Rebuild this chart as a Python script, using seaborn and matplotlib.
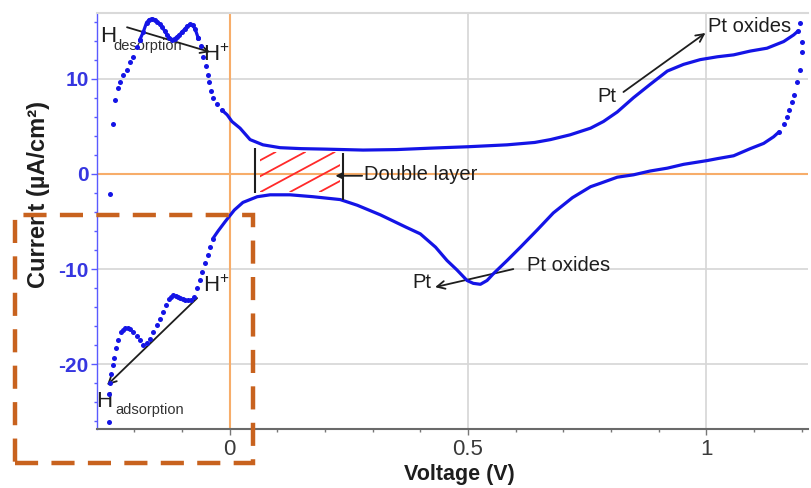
import matplotlib
matplotlib.use("Agg")
import numpy as np
import pandas as pd
import matplotlib.pyplot as plt
import seaborn as sns
from matplotlib.patches import Rectangle
from matplotlib.ticker import MultipleLocator

# ---------------- data ----------------
# anodic sweep: sparse rise (dots)
up_rise_x = [-0.251, -0.244, -0.240, -0.235, -0.230, -0.223, -0.216, -0.209, -0.202, -0.194, -0.188]
up_rise_y = [-2.1, 5.2, 7.8, 9.0, 9.7, 10.4, 10.9, 11.7, 12.3, 13.3, 14.1]
# anodic H-desorption double peak
up_peak_x = [-0.188, -0.181, -0.174, -0.168, -0.163, -0.157, -0.152, -0.146, -0.141, -0.136, -0.131, -0.126,
             -0.121, -0.115, -0.110, -0.105, -0.100, -0.094, -0.089, -0.083, -0.077, -0.072, -0.066]
up_peak_y = [14.1, 14.9, 15.9, 16.2, 16.3, 16.2, 16.0, 15.7, 15.4, 15.0, 14.6, 14.3,
             14.1, 14.2, 14.4, 14.6, 14.9, 15.2, 15.5, 15.7, 15.6, 15.2, 14.3]
# anodic fall (dots)
up_fall_x = [-0.066, -0.060, -0.056, -0.050, -0.045, -0.043, -0.039, -0.035, -0.027, -0.016]
up_fall_y = [14.3, 13.4, 12.3, 11.3, 10.4, 9.6, 8.7, 8.0, 7.3, 6.7]
# anodic main (dense)
up_main_x = [-0.016, -0.005, 0.005, 0.022, 0.043, 0.070, 0.106, 0.150, 0.200, 0.280, 0.350, 0.421,
             0.500, 0.582, 0.640, 0.673, 0.714, 0.757, 0.784, 0.813, 0.847, 0.882, 0.918, 0.952,
             0.987, 1.023, 1.057, 1.092, 1.127, 1.162, 1.183, 1.192]
up_main_y = [6.7, 6.2, 5.5, 4.8, 3.6, 3.05, 2.75, 2.65, 2.6, 2.5, 2.55, 2.7,
             2.85, 3.05, 3.3, 3.6, 4.1, 4.8, 5.5, 6.5, 8.0, 9.4, 10.8, 11.5,
             12.0, 12.3, 12.5, 12.9, 13.2, 13.9, 14.6, 15.0]
# turning point at the positive limit (dots)
turn_x = [1.192, 1.197, 1.201, 1.200, 1.196, 1.190, 1.183, 1.180, 1.174, 1.170, 1.162, 1.152]
turn_y = [15.0, 15.9, 13.8, 12.8, 10.9, 9.6, 8.3, 7.5, 6.7, 6.0, 5.2, 4.4]
# cathodic main (dense)
down_main_x = [1.152, 1.141, 1.120, 1.092, 1.057, 1.023, 1.002, 0.952, 0.918, 0.882, 0.847, 0.813,
               0.777, 0.757, 0.719, 0.679, 0.645, 0.610, 0.582, 0.553, 0.540, 0.526, 0.511, 0.498,
               0.477, 0.456, 0.432, 0.400, 0.370, 0.316, 0.268, 0.232, 0.175, 0.127, 0.085, 0.058,
               0.028, 0.010, -0.009, -0.024, -0.035]
down_main_y = [4.4, 3.9, 3.2, 2.65, 1.9, 1.6, 1.4, 1.0, 0.6, 0.3, -0.1, -0.35,
               -1.0, -1.35, -2.5, -4.1, -5.9, -7.7, -9.1, -10.5, -11.2, -11.6, -11.5, -11.2,
               -10.1, -9.1, -7.7, -6.3, -5.6, -4.3, -3.3, -2.7, -2.4, -2.2, -2.2, -2.4,
               -3.0, -3.8, -5.0, -6.0, -6.8]
# cathodic H-adsorption region (dots)
down_h_x = [-0.035, -0.041, -0.045, -0.051, -0.058, -0.062, -0.068, -0.074, -0.080, -0.087, -0.093,
            -0.098, -0.103, -0.108, -0.113, -0.118, -0.123, -0.127, -0.133, -0.139, -0.146, -0.152,
            -0.160, -0.167, -0.173, -0.181, -0.188, -0.194, -0.202, -0.208, -0.213, -0.219, -0.224,
            -0.228, -0.234, -0.238, -0.242, -0.245, -0.248, -0.251, -0.252, -0.253]
down_h_y = [-6.8, -7.7, -8.5, -9.4, -10.3, -11.2, -12.0, -12.9, -13.2, -13.3, -13.2,
            -13.1, -13.0, -12.9, -12.8, -12.7, -12.9, -13.1, -13.8, -14.5, -15.2, -15.9,
            -16.6, -17.3, -17.8, -18.0, -17.5, -17.0, -16.6, -16.3, -16.2, -16.2, -16.4,
            -16.6, -17.5, -18.3, -19.3, -20.1, -21.0, -22.0, -23.1, -26.1]

x_ticks = [0, 0.5, 1]
x_tick_labels = ["0", "0.5", "1"]
y_ticks = [-20, -10, 0, 10]
y_tick_labels = ["-20", "-10", "0", "10"]

# ---------------- style ----------------
sns.set_theme(style="white")
plt.rcParams['font.family'] = ['Liberation Sans', 'DejaVu Sans']
plt.rcParams['mathtext.default'] = 'regular'

BLUE = '#1414e6'
ORANGE = '#f7ad6a'
TXT = '#1e1e1e'

fig = plt.figure(figsize=(8.11, 4.88), dpi=100)
ax = fig.add_axes([0.1196, 0.1209, 0.8767, 0.8525])

line_segments = [(up_main_x, up_main_y), (down_main_x, down_main_y), (up_peak_x, up_peak_y)]
dot_segments = [(up_rise_x, up_rise_y), (up_peak_x, up_peak_y), (up_fall_x, up_fall_y),
                (turn_x, turn_y), (down_h_x, down_h_y)]

for sx, sy in line_segments:
    df = pd.DataFrame({"V": sx, "I": sy})
    sns.lineplot(data=df, x="V", y="I", sort=False, estimator=None, color=BLUE,
                 linewidth=2.3, ax=ax, zorder=4)
for sx, sy in dot_segments:
    df = pd.DataFrame({"V": sx, "I": sy})
    sns.scatterplot(data=df, x="V", y="I", color=BLUE, s=13, linewidth=0, ax=ax, zorder=4)

ax.set_xlim(-0.278, 1.213)
ax.set_ylim(-26.8, 16.9)

ax.set_xticks(x_ticks)
ax.set_xticklabels(x_tick_labels)
ax.set_yticks(y_ticks)
ax.set_yticklabels(y_tick_labels)
ax.xaxis.set_minor_locator(MultipleLocator(0.1))
ax.yaxis.set_minor_locator(MultipleLocator(2))

ax.grid(True, which='major', color='#d6d6d6', linewidth=1.2)
ax.set_axisbelow(True)
ax.axhline(0, color=ORANGE, lw=1.5, zorder=1.5)
ax.axvline(0, color=ORANGE, lw=1.5, zorder=1.5)

ax.spines['right'].set_visible(False)
ax.spines['top'].set_color('#d9d9d9')
ax.spines['top'].set_linewidth(1.5)
ax.spines['left'].set_color('#5a5aff')
ax.spines['left'].set_linewidth(1.0)
ax.spines['bottom'].set_color('#6a6a6a')
ax.spines['bottom'].set_linewidth(1.5)

ax.tick_params(axis='y', which='major', direction='out', length=4, width=1,
               color='#5a5aff', labelcolor='#3636e0', labelsize=15, pad=2, left=True)
ax.tick_params(axis='y', which='minor', direction='out', length=2.5, width=1,
               color='#5a5aff', left=True)
ax.tick_params(axis='x', which='major', direction='out', length=4, width=1,
               color='#777777', labelcolor='#3a3a3a', labelsize=16, pad=3, bottom=True)
ax.tick_params(axis='x', which='minor', direction='out', length=2.5, width=1,
               color='#777777', bottom=True)
for lbl in ax.get_yticklabels():
    lbl.set_fontweight('bold')

ax.set_xlabel("Voltage (V)", fontsize=15.5, fontweight='bold', color=TXT)
ax.xaxis.set_label_coords(0.51, -0.085)
ax.set_ylabel("Current (µA/cm²)", fontsize=17, fontweight='bold', color=TXT)
ax.yaxis.set_label_coords(-0.066, 0.5625)

# ---------------- annotations ----------------
arr = dict(arrowstyle='->', lw=1.3, color=TXT, shrinkA=0, shrinkB=0, mutation_scale=14)

# H desorption
ax.text(-0.272, 13.9, "H", fontsize=16, color=TXT, ha='left', va='baseline', clip_on=False)
ax.text(-0.2445, 13.4, "desorption", fontsize=10.5, color='#333333', ha='left', va='center')
ax.text(-0.0556, 11.9, "H$^{+}$", fontsize=16, color=TXT, ha='left', va='baseline')
ax.annotate("", xy=(-0.041, 12.8), xytext=(-0.215, 15.4), arrowprops=arr)

# H adsorption
ax.text(-0.0556, -12.4, "H$^{+}$", fontsize=16, color=TXT, ha='left', va='baseline')
ax.annotate("", xy=(-0.257, -22.2), xytext=(-0.068, -13.05), arrowprops=arr)
ax.text(-0.279, -24.5, "H", fontsize=16, color=TXT, ha='left', va='baseline', clip_on=False)
ax.text(-0.240, -24.8, "adsorption", fontsize=10.5, color='#333333', ha='left', va='center')

# double layer
ax.vlines([0.0535], -2.0, 2.74, color=TXT, lw=1.5, zorder=5)
ax.vlines([0.238], -2.74, 2.2, color=TXT, lw=1.5, zorder=5)
clip = Rectangle((0.064, -1.9), 0.168, 4.2, transform=ax.transData, facecolor='none',
                 edgecolor='none')
ax.add_patch(clip)
slope = 27.0
for k in range(-4, 7):
    xb = 0.065 + k * 0.062
    hl, = ax.plot([xb, xb + 4.2 / slope], [-1.9, 2.3], color='#ff2a2a', lw=1.3, zorder=3)
    hl.set_clip_path(clip)
ax.annotate("", xy=(0.222, -0.2), xytext=(0.278, -0.2),
            arrowprops=dict(arrowstyle='-|>', lw=1.3, color=TXT, shrinkA=0, shrinkB=0,
                            mutation_scale=9))
ax.text(0.282, -0.1, "Double layer", fontsize=14.5, color=TXT, ha='left', va='center')

# Pt / Pt oxides (cathodic)
ax.text(0.383, -11.4, "Pt", fontsize=14.5, color=TXT, ha='left', va='center')
ax.text(0.624, -9.6, "Pt oxides", fontsize=14.5, color=TXT, ha='left', va='center')
ax.annotate("", xy=(0.431, -11.9), xytext=(0.595, -10.0), arrowprops=arr)

# Pt / Pt oxides (anodic)
ax.text(0.771, 8.1, "Pt", fontsize=14.5, color=TXT, ha='left', va='center')
ax.text(1.004, 15.5, "Pt oxides", fontsize=14.5, color=TXT, ha='left', va='center')
ax.annotate("", xy=(0.998, 14.8), xytext=(0.826, 8.6), arrowprops=arr)

# dashed highlight box (figure coordinates)
fig.add_artist(Rectangle((15 / 811, 1 - 463 / 488), (253 - 15) / 811, (463 - 215) / 488,
                         transform=fig.transFigure, fill=False, edgecolor='#c8621e',
                         lw=3.2, linestyle=(0, (5.2, 3.0)), zorder=10))

fig.savefig("out.png", dpi=100)
